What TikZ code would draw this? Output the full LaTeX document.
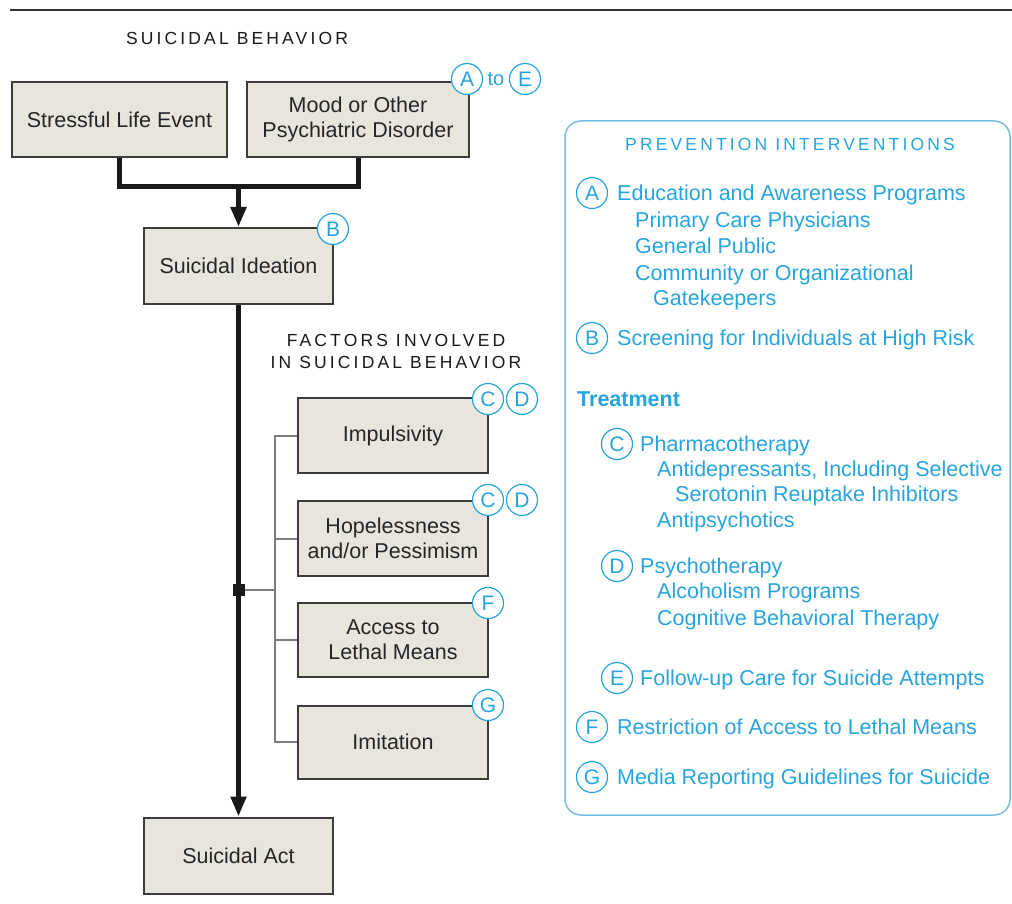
\documentclass[tikz,border=0pt]{standalone}
\usepackage{fontspec}
\setmainfont{Liberation Sans}
\newfontfamily\capsfont[LetterSpace=18]{Liberation Sans}
\usetikzlibrary{arrows.meta}
\definecolor{boxfill}{RGB}{231,229,220}
\definecolor{boxline}{RGB}{60,60,60}
\definecolor{prevblue}{RGB}{38,164,222}
\definecolor{panelblue}{RGB}{120,190,228}
\definecolor{branchgray}{RGB}{125,125,125}
\def\boxsize{\fontsize{21.5}{25}\selectfont}
\def\capsize{\fontsize{17.5}{22}\selectfont}

\tikzset{
  factorbox/.style={draw=boxline, fill=boxfill, line width=2pt, align=center, inner sep=0pt,
    font=\boxsize, text=black!85},
  markcircle/.style={circle, draw=prevblue, fill=white, line width=1.2pt, minimum size=31pt,
    inner sep=0pt, text=prevblue, font=\fontsize{21}{21}\selectfont},
  heading/.style={font=\capsfont\capsize, text=black!90, align=center},
  flowline/.style={line width=5pt, black!90},
  flowarrow/.style={flowline, -{Triangle[length=20pt,width=15pt]}},
  branchline/.style={line width=2pt, branchgray},
  itemtext/.style={anchor=base west, inner sep=0pt, font=\boxsize, text=prevblue},
}

\begin{document}
\begin{tikzpicture}[x=1pt, y=-1pt]
      \useasboundingbox (0,0) rectangle (1012,904);
      \draw[line width=1.5pt, black!80] (10,10) -- (1012,10);

      \node[heading] (behav) at (237,38) {SUICIDAL BEHAVIOR};
      \node[heading, align=center] (factors) at (396,351) {FACTORS INVOLVED\\IN SUICIDAL BEHAVIOR};

      \node[factorbox, minimum width=215pt, minimum height=75pt] (stress) at (119.5,119.5) {Stressful Life Event};
      \node[factorbox, minimum width=222pt, minimum height=75pt] (mood) at (358,119.5) {Mood or Other\\Psychiatric Disorder};
      \node[factorbox, minimum width=189pt, minimum height=76pt] (ideation) at (238.5,266) {Suicidal Ideation};
      \node[factorbox, minimum width=189pt, minimum height=76pt] (act) at (238.5,855.5) {Suicidal Act};

      \node[factorbox, minimum width=190pt, minimum height=75pt] (impuls) at (393,435.5) {Impulsivity};
      \node[factorbox, minimum width=190pt, minimum height=75pt] (hope) at (393,538.5) {Hopelessness\\and/or Pessimism};
      \node[factorbox, minimum width=190pt, minimum height=74pt] (access) at (393,640) {Access to\\Lethal Means};
      \node[factorbox, minimum width=190pt, minimum height=73pt] (imit) at (393,742) {Imitation};

      \coordinate (merge) at (238.5,187);
      \coordinate (spine) at (276,590);
      \draw[flowline] (stress.south) |- (merge) -| (mood.south);
      \draw[flowarrow] (merge) -- (ideation.north);
      \draw[flowarrow] (ideation.south) -- (act.north);

      \draw[branchline] (impuls.west) -- ++(-22,0) |- (imit.west);
      \draw[branchline] (hope.west) -- ++(-22,0);
      \draw[branchline] (access.west) -- ++(-22,0);
      \node[fill=black!90, minimum size=12pt, inner sep=0pt] (junc) at (238.5,590) {};
      \draw[branchline] (junc) -- (spine);

      \node[markcircle] (mA) at (467,79) {A};
      \node[text=prevblue, font=\fontsize{20}{20}\selectfont, inner sep=0pt] (mto) at (496,79) {to};
      \node[markcircle] (mE) at (525,79) {E};
      \node[markcircle] (mB) at (333,229) {B};
      \node[markcircle] (mC1) at (488,399) {C};
      \node[markcircle] (mD1) at (522,399) {D};
      \node[markcircle] (mC2) at (488,500) {C};
      \node[markcircle] (mD2) at (522,500) {D};
      \node[markcircle] (mF) at (488,603) {F};
      \node[markcircle] (mG) at (488,705) {G};

      \draw[panelblue, line width=1.5pt, rounded corners=16pt] (565,121) rectangle (1010,815);
      \node[heading, text=prevblue] (prev) at (790,144) {PREVENTION INTERVENTIONS};

      \node[markcircle] (pA) at (592,193) {A};
      \node[itemtext] (tA) at (617,201) {Education and Awareness Programs};
      \node[itemtext] (tA1) at (635,228) {Primary Care Physicians};
      \node[itemtext] (tA2) at (635,253) {General Public};
      \node[itemtext] (tA3) at (635,280) {Community or Organizational};
      \node[itemtext] (tA4) at (653,305) {Gatekeepers};
      \node[markcircle] (pB) at (592,338) {B};
      \node[itemtext] (tB) at (617,345) {Screening for Individuals at High Risk};
      \node[itemtext, font=\boxsize\bfseries] (treat) at (577,406) {Treatment};
      \node[markcircle] (pC) at (617,444) {C};
      \node[itemtext] (tC) at (640,451) {Pharmacotherapy};
      \node[itemtext] (tC1) at (657,476) {Antidepressants, Including Selective};
      \node[itemtext] (tC2) at (675,501) {Serotonin Reuptake Inhibitors};
      \node[itemtext] (tC3) at (657,527) {Antipsychotics};
      \node[markcircle] (pD) at (617,566) {D};
      \node[itemtext] (tD) at (640,573) {Psychotherapy};
      \node[itemtext] (tD1) at (657,598) {Alcoholism Programs};
      \node[itemtext] (tD2) at (657,625) {Cognitive Behavioral Therapy};
      \node[markcircle] (pE) at (617,678) {E};
      \node[itemtext] (tE) at (640,685) {Follow-up Care for Suicide Attempts};
      \node[markcircle] (pF) at (592,727) {F};
      \node[itemtext] (tF) at (617,734) {Restriction of Access to Lethal Means};
      \node[markcircle] (pG) at (592,777) {G};
      \node[itemtext] (tG) at (617,784) {Media Reporting Guidelines for Suicide};
    \end{tikzpicture}
\end{document}
